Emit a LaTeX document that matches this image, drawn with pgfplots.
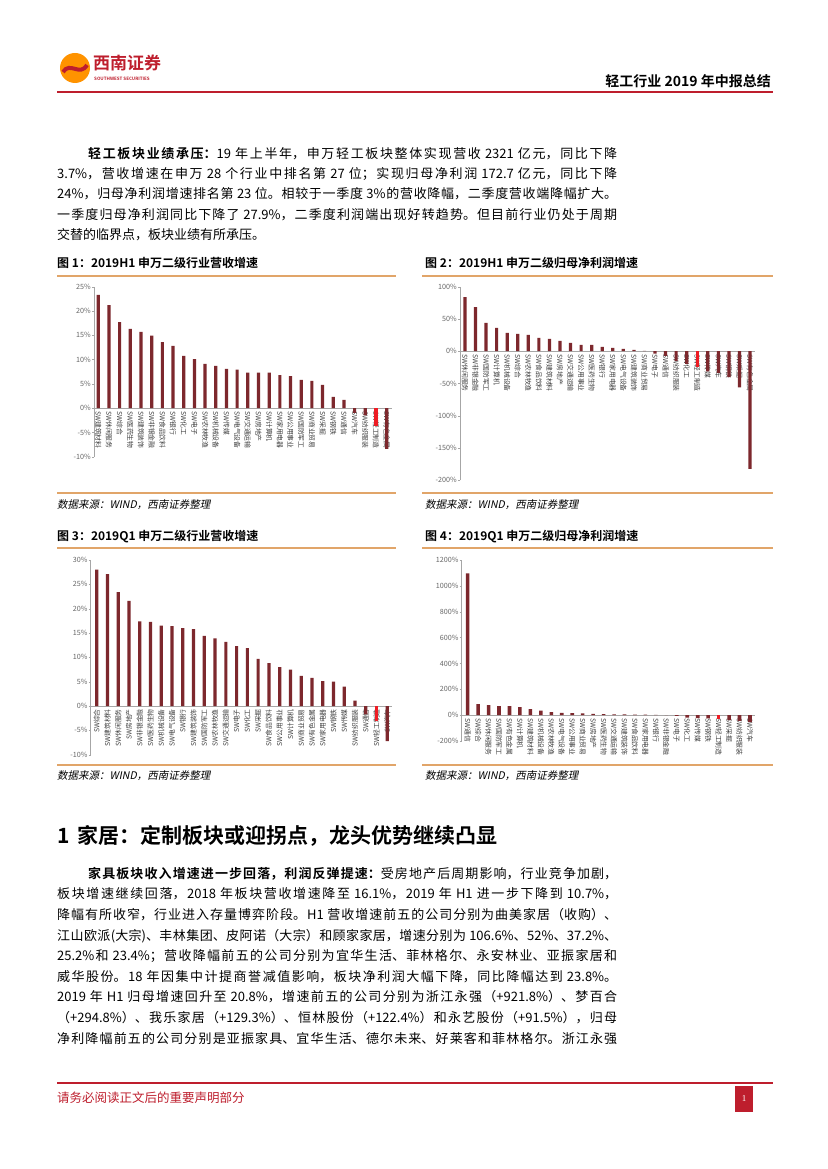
\documentclass[border=0pt]{standalone}
\usepackage{fontspec}
\setmainfont{Noto Sans CJK SC}[BoldFont={Noto Sans CJK SC Bold}]
\newfontfamily\cjkit{Noto Sans CJK SC}[FakeSlant=0.2]
\newfontfamily\serifnum{Liberation Serif}
\usepackage{pgfplots}
\pgfplotsset{compat=1.18}
\XeTeXlinebreaklocale "zh"
\XeTeXlinebreakskip=0pt plus 2pt minus 0.4pt
\definecolor{bar}{RGB}{125,40,45}
\definecolor{hl}{RGB}{237,28,36}
\definecolor{orl}{RGB}{225,165,105}
\definecolor{hred}{RGB}{190,30,45}
\pgfplotsset{
 barchart/.style={
  scale only axis, anchor=north west,
  axis y line=left, axis x line=middle,
  axis line style={-, draw=black!35, line width=0.6pt},
  ybar, bar width=3.2pt,
  xtick={0,...,27},
  major x tick style={draw=none},
  ytick align=outside, major tick length=2pt, major y tick style={draw=black!35},
  yticklabel style={font=\fontsize{7.2}{7.5}\selectfont, text=black!60, inner sep=1pt},
  xticklabel style={font=\fontsize{6.8}{7}\selectfont, text=black!75, inner sep=1pt},
  clip=false,
  /pgf/number format/assume math mode=true,
  enlargelimits=false,
 }
}
\begin{document}
\begin{tikzpicture}
\path[use as bounding box, fill=white] (0pt,0pt) rectangle (827pt,1169pt);
% ---------- header ----------
\fill[orange!85!yellow] (75pt,1101pt) circle (15pt);
\draw[hred, line width=4pt] (63pt,1097pt) .. controls (70pt,1108pt) and (80pt,1092pt) .. (87pt,1104pt);
\node[anchor=west, inner sep=0pt, text=hred, font=\fontsize{17}{17}\selectfont\bfseries] at (93pt,1106pt) {西南证券};
\node[anchor=west, inner sep=0pt, text=hred, font=\fontsize{4.5}{5}\selectfont\bfseries] at (94pt,1090pt) {SOUTHWEST SECURITIES};
\node[anchor=base east, inner sep=0pt, font=\fontsize{14}{14}\selectfont\bfseries] at (771pt,1082pt) {轻工行业 2019 年中报总结};
\draw[hred, line width=1.5pt] (57pt,1077pt) -- (773pt,1077pt);
% ---------- paragraph 1 ----------
\node[anchor=north west, inner sep=0pt, text width=560pt, align=justify] at (57pt,1022pt) {\fontsize{13}{20.3}\selectfont\tolerance=10000\parindent=0pt
\hspace*{31pt}{\bfseries 轻工板块业绩承压：}19 年上半年，申万轻工板块整体实现营收 2321 亿元，同比下降\linebreak
3.7\%，营收增速在申万 28 个行业中排名第 27 位；实现归母净利润 172.7 亿元，同比下降\linebreak
24\%，归母净利润增速排名第 23 位。相较于一季度 3\%的营收降幅，二季度营收端降幅扩大。\linebreak
一季度归母净利润同比下降了 27.9\%，二季度利润端出现好转趋势。但目前行业仍处于周期\linebreak
交替的临界点，板块业绩有所承压。\par};
% ---------- figure frames ----------
\node[anchor=west, inner sep=0pt, font=\fontsize{12}{12}\selectfont\bfseries] at (57pt,906pt) {图 1：2019H1 申万二级行业营收增速};
\node[anchor=west, inner sep=0pt, font=\fontsize{12}{12}\selectfont\bfseries] at (425pt,906pt) {图 2：2019H1 申万二级归母净利润增速};
\draw[orl, line width=1.3pt] (57pt,893pt) -- (396pt,893pt);
\draw[orl, line width=1.3pt] (422pt,893pt) -- (773pt,893pt);
\draw[orl, line width=1.3pt] (57pt,676pt) -- (396pt,676pt);
\draw[orl, line width=1.3pt] (422pt,676pt) -- (773pt,676pt);
\node[anchor=west, inner sep=0pt, font=\fontsize{10.5}{10.5}\cjkit] at (57pt,664pt) {数据来源：WIND，西南证券整理};
\node[anchor=west, inner sep=0pt, font=\fontsize{10.5}{10.5}\cjkit] at (425pt,664pt) {数据来源：WIND，西南证券整理};
\node[anchor=west, inner sep=0pt, font=\fontsize{12}{12}\selectfont\bfseries] at (57pt,632pt) {图 3：2019Q1 申万二级行业营收增速};
\node[anchor=west, inner sep=0pt, font=\fontsize{12}{12}\selectfont\bfseries] at (425pt,632pt) {图 4：2019Q1 申万二级归母净利润增速};
\draw[orl, line width=1.3pt] (57pt,621pt) -- (396pt,621pt);
\draw[orl, line width=1.3pt] (422pt,621pt) -- (773pt,621pt);
\draw[orl, line width=1.3pt] (57pt,404pt) -- (396pt,404pt);
\draw[orl, line width=1.3pt] (422pt,404pt) -- (773pt,404pt);
\node[anchor=west, inner sep=0pt, font=\fontsize{10.5}{10.5}\cjkit] at (57pt,393pt) {数据来源：WIND，西南证券整理};
\node[anchor=west, inner sep=0pt, font=\fontsize{10.5}{10.5}\cjkit] at (425pt,393pt) {数据来源：WIND，西南证券整理};
% ---------- chart 1 ----------
\begin{axis}[barchart, at={(94pt,882.3pt)}, width=298pt, height=170pt,
  xmin=-0.4, xmax=27.5, ymin=-10, ymax=25,
  ytick={-10,-5,0,5,10,15,20,25},
  yticklabels={-10\%,-5\%,0\%,5\%,10\%,15\%,20\%,25\%},
  xticklabel style={rotate=-90, anchor=west},
  xticklabels={SW建筑材料,SW休闲服务,SW综合,SW医药生物,SW建筑装饰,SW非银金融,SW食品饮料,SW银行,SW化工,SW电子,SW农林牧渔,SW机械设备,SW传媒,SW电气设备,SW交通运输,SW房地产,SW计算机,SW家用电器,SW公用事业,SW国防军工,SW商业贸易,SW采掘,SW钢铁,SW通信,SW汽车,SW纺织服装,SW轻工制造,SW有色金属}]
\addplot[fill=bar, draw=none, bar shift=0pt] coordinates {(0,23.3)(1,21.2)(2,17.7)(3,16.3)(4,15.7)(5,14.9)(6,13.6)(7,12.8)(8,10.75)(9,10.1)(10,9.1)(11,8.7)(12,8.1)(13,7.9)(14,7.3)(15,7.3)(16,7.3)(17,6.8)(18,6.6)(19,5.8)(20,5.6)(21,4.8)(22,2.3)(23,1.7)(24,-1.0)(25,-1.5)(27,-8.4)};
\addplot[fill=hl, draw=none, bar shift=0pt] coordinates {(26,-3.7)};
\end{axis}
% ---------- chart 2 ----------
\begin{axis}[barchart, at={(460pt,882.3pt)}, width=295pt, height=193.6pt,
  xmin=-0.47, xmax=27.47, ymin=-200, ymax=100,
  ytick={-200,-150,-100,-50,0,50,100},
  yticklabels={-200\%,-150\%,-100\%,-50\%,0\%,50\%,100\%},
  xticklabel style={rotate=-90, anchor=west},
  xticklabels={SW休闲服务,SW非银金融,SW国防军工,SW计算机,SW机械设备,SW综合,SW农林牧渔,SW食品饮料,SW建筑材料,SW房地产,SW交通运输,SW公用事业,SW医药生物,SW银行,SW家用电器,SW电气设备,SW建筑装饰,SW商业贸易,SW电子,SW通信,SW纺织服装,SW化工,SW轻工制造,SW传媒,SW汽车,SW钢铁,SW采掘,SW有色金属}]
\addplot[fill=bar, draw=none, bar shift=0pt] coordinates {(0,84)(1,68.5)(2,43.8)(3,36)(4,28.4)(5,26.8)(6,25.3)(7,20.6)(8,19)(9,16)(10,12.9)(11,9.8)(12,9.8)(13,6.7)(14,5.2)(15,3.6)(16,2)(17,0.4)(18,-3.6)(19,-7.2)(20,-15)(21,-19.6)(23,-31.4)(24,-33.5)(25,-40)(26,-56)(27,-182.5)};
\addplot[fill=hl, draw=none, bar shift=0pt] coordinates {(22,-24)};
\end{axis}
% ---------- chart 3 ----------
\begin{axis}[barchart, at={(90.7pt,609pt)}, width=301.3pt, height=194.7pt,
  xmin=-0.56, xmax=27.44, ymin=-10, ymax=30,
  ytick={-10,-5,0,5,10,15,20,25,30},
  yticklabels={-10\%,-5\%,0\%,5\%,10\%,15\%,20\%,25\%,30\%},
  xticklabel style={rotate=90, anchor=east},
  xticklabels={SW综合,SW建筑材料,SW休闲服务,SW房地产,SW非银金融,SW医药生物,SW机械设备,SW电气设备,SW银行,SW建筑装饰,SW国防军工,SW农林牧渔,SW交通运输,SW电子,SW化工,SW采掘,SW食品饮料,SW公用事业,SW计算机,SW商业贸易,SW有色金属,SW家用电器,SW钢铁,SW传媒,SW纺织服装,SW通信,SW轻工制造,SW汽车}]
\addplot[fill=bar, draw=none, bar shift=0pt] coordinates {(0,28.0)(1,27.1)(2,23.4)(3,21.6)(4,17.4)(5,17.3)(6,16.5)(7,16.4)(8,16.0)(9,15.8)(10,14.4)(11,13.9)(12,13.2)(13,12.3)(14,11.9)(15,9.7)(16,8.8)(17,8.0)(18,7.5)(19,6.2)(20,5.8)(21,5.1)(22,5.0)(23,4.0)(24,1.1)(25,-1.7)(27,-7.2)};
\addplot[fill=hl, draw=none, bar shift=0pt] coordinates {(26,-3.0)};
\end{axis}
% ---------- chart 4 ----------
\begin{axis}[barchart, at={(461.7pt,609pt)}, width=293.3pt, height=181pt,
  xmin=-0.57, xmax=27.48, ymin=-200, ymax=1200, bar width=3.6pt,
  ytick={-200,0,200,400,600,800,1000,1200},
  yticklabels={-200\%,0\%,200\%,400\%,600\%,800\%,1000\%,1200\%},
  xticklabel style={rotate=-90, anchor=west},
  xticklabels={SW通信,SW综合,SW休闲服务,SW国防军工,SW有色金属,SW计算机,SW建筑材料,SW机械设备,SW农林牧渔,SW电气设备,SW公用事业,SW商业贸易,SW房地产,SW医药生物,SW交通运输,SW建筑装饰,SW食品饮料,SW家用电器,SW银行,SW非银金融,SW电子,SW化工,SW传媒,SW钢铁,SW轻工制造,SW采掘,SW纺织服装,SW汽车}]
\addplot[fill=bar, draw=none, bar shift=0pt] coordinates {(0,1097)(1,85)(2,77)(3,70)(4,70)(5,62)(6,46)(7,34)(8,23)(9,18)(10,15)(11,13)(12,10)(13,8)(14,6)(15,5)(16,4)(17,3)(18,2)(19,0.5)(20,-5)(21,-20)(22,-24)(23,-26)(25,-38)(26,-45)(27,-55)};
\addplot[fill=hl, draw=none, bar shift=0pt] coordinates {(24,-27.9)};
\end{axis}
% ---------- section 1 ----------
\node[anchor=west, inner sep=0pt, font=\fontsize{21}{21}\selectfont\bfseries] at (57pt,333pt) {1\hspace{8pt}家居：定制板块或迎拐点，龙头优势继续凸显};
\node[anchor=north west, inner sep=0pt, text width=560pt, align=justify] at (57pt,302pt) {\fontsize{13}{20.6}\selectfont\tolerance=10000\parindent=0pt\parfillskip=0pt
\hspace*{31pt}{\bfseries 家具板块收入增速进一步回落，利润反弹提速：}受房地产后周期影响，行业竞争加剧，\linebreak
板块增速继续回落，2018 年板块营收增速降至 16.1\%，2019 年 H1 进一步下降到 10.7\%，\linebreak
降幅有所收窄，行业进入存量博弈阶段。H1 营收增速前五的公司分别为曲美家居（收购）、\linebreak
江山欧派(大宗)、丰林集团、皮阿诺（大宗）和顾家家居，增速分别为 106.6\%、52\%、37.2\%、\linebreak
25.2\%和 23.4\%；营收降幅前五的公司分别为宜华生活、菲林格尔、永安林业、亚振家居和\linebreak
威华股份。18 年因集中计提商誉减值影响，板块净利润大幅下降，同比降幅达到 23.8\%。\linebreak
2019 年 H1 归母增速回升至 20.8\%，增速前五的公司分别为浙江永强（+921.8\%）、梦百合\linebreak
（+294.8\%）、我乐家居（+129.3\%）、恒林股份（+122.4\%）和永艺股份（+91.5\%），归母\linebreak
净利降幅前五的公司分别是亚振家具、宜华生活、德尔未来、好莱客和菲林格尔。浙江永强\par};
% ---------- footer ----------
\draw[hred, line width=1.5pt] (57pt,86pt) -- (773pt,86pt);
\node[anchor=west, inner sep=0pt, text=hred, font=\fontsize{12.5}{12.5}\selectfont] at (57pt,71pt) {请务必阅读正文后的重要声明部分};
\fill[hred] (735pt,57pt) rectangle (753pt,83pt);
\node[text=white, inner sep=0pt, font=\fontsize{9}{9}\serifnum] at (744pt,70pt) {1};
\end{tikzpicture}
\end{document}
